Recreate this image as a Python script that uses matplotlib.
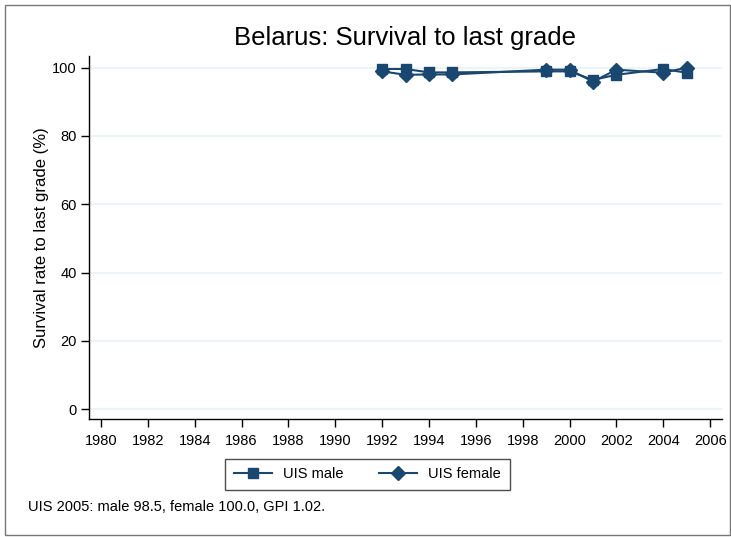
#! /usr/bin/env python3

# Belarus: survival to last grade, UIS male / female series.

import matplotlib
matplotlib.use('Agg')
import matplotlib.pyplot as plt
from matplotlib.patches import Rectangle

plt.rcParams['font.family'] = ['Liberation Sans', 'DejaVu Sans']

years = [1992, 1993, 1994, 1995, 1999, 2000, 2001, 2002, 2004, 2005]
male = [99.6, 99.6, 98.6, 98.6, 98.9, 98.9, 96.4, 97.9, 99.6, 98.5]
female = [98.9, 97.9, 98.0, 98.0, 99.4, 99.4, 95.9, 99.4, 98.5, 100.0]

xticks = list(range(1980, 2007, 2))
yticks = [0, 20, 40, 60, 80, 100]

title = 'Belarus: Survival to last grade'
ylabel = 'Survival rate to last grade (%)'
note = 'UIS 2005: male 98.5, female 100.0, GPI 1.02.'

navy = '#1a476f'
grid = '#eaf2f3'

fig = plt.figure(figsize=(7.31, 5.37), dpi=100)
ax = fig.add_axes([0.1218, 0.2197, 0.866, 0.676])

ax.plot(years, male, color=navy, lw=1.5, marker='s', ms=7, label='UIS male')
ax.plot(years, female, color=navy, lw=1.5, marker='D', ms=7, label='UIS female')

ax.set_xlim(1979.49, 2006.51)
ax.set_ylim(-2.9, 103.4)
ax.set_xticks(xticks)
ax.set_yticks(yticks)
ax.yaxis.grid(True, color=grid, lw=1.2)
ax.set_axisbelow(True)

# Stata style axes: only left and bottom, ticks outside.
for spine in 'right', 'top':
    ax.spines[spine].set_visible(False)
for spine in 'left', 'bottom':
    ax.spines[spine].set_linewidth(1.0)
ax.tick_params(axis='both', direction='out', length=6, width=1.0,
               labelsize=10.5)
ax.tick_params(axis='x', pad=5)
ax.tick_params(axis='y', pad=3)
ax.set_ylabel(ylabel, fontsize=12, labelpad=2)

fig.text(0.554, 0.929, title, ha='center', va='center', fontsize=18.5)

# Legend box below the axis, left edge aligned as in the original.
leg = fig.legend(loc='center left', bbox_to_anchor=(0.3078, 0.1164), ncol=2,
                 fancybox=False, edgecolor='#222222', fontsize=10.5,
                 handlelength=2.6, columnspacing=2.4, borderpad=0.6,
                 borderaxespad=0)
leg.get_frame().set_linewidth(1.0)

fig.text(0.038, 0.056, note, ha='left', va='center', fontsize=10.5)

fig.patches.append(Rectangle((0.0068, 0.004), 0.9918, 0.9876,
                             transform=fig.transFigure, fill=False,
                             edgecolor='#777777', lw=1.0))

fig.savefig('out.png', dpi=100)
